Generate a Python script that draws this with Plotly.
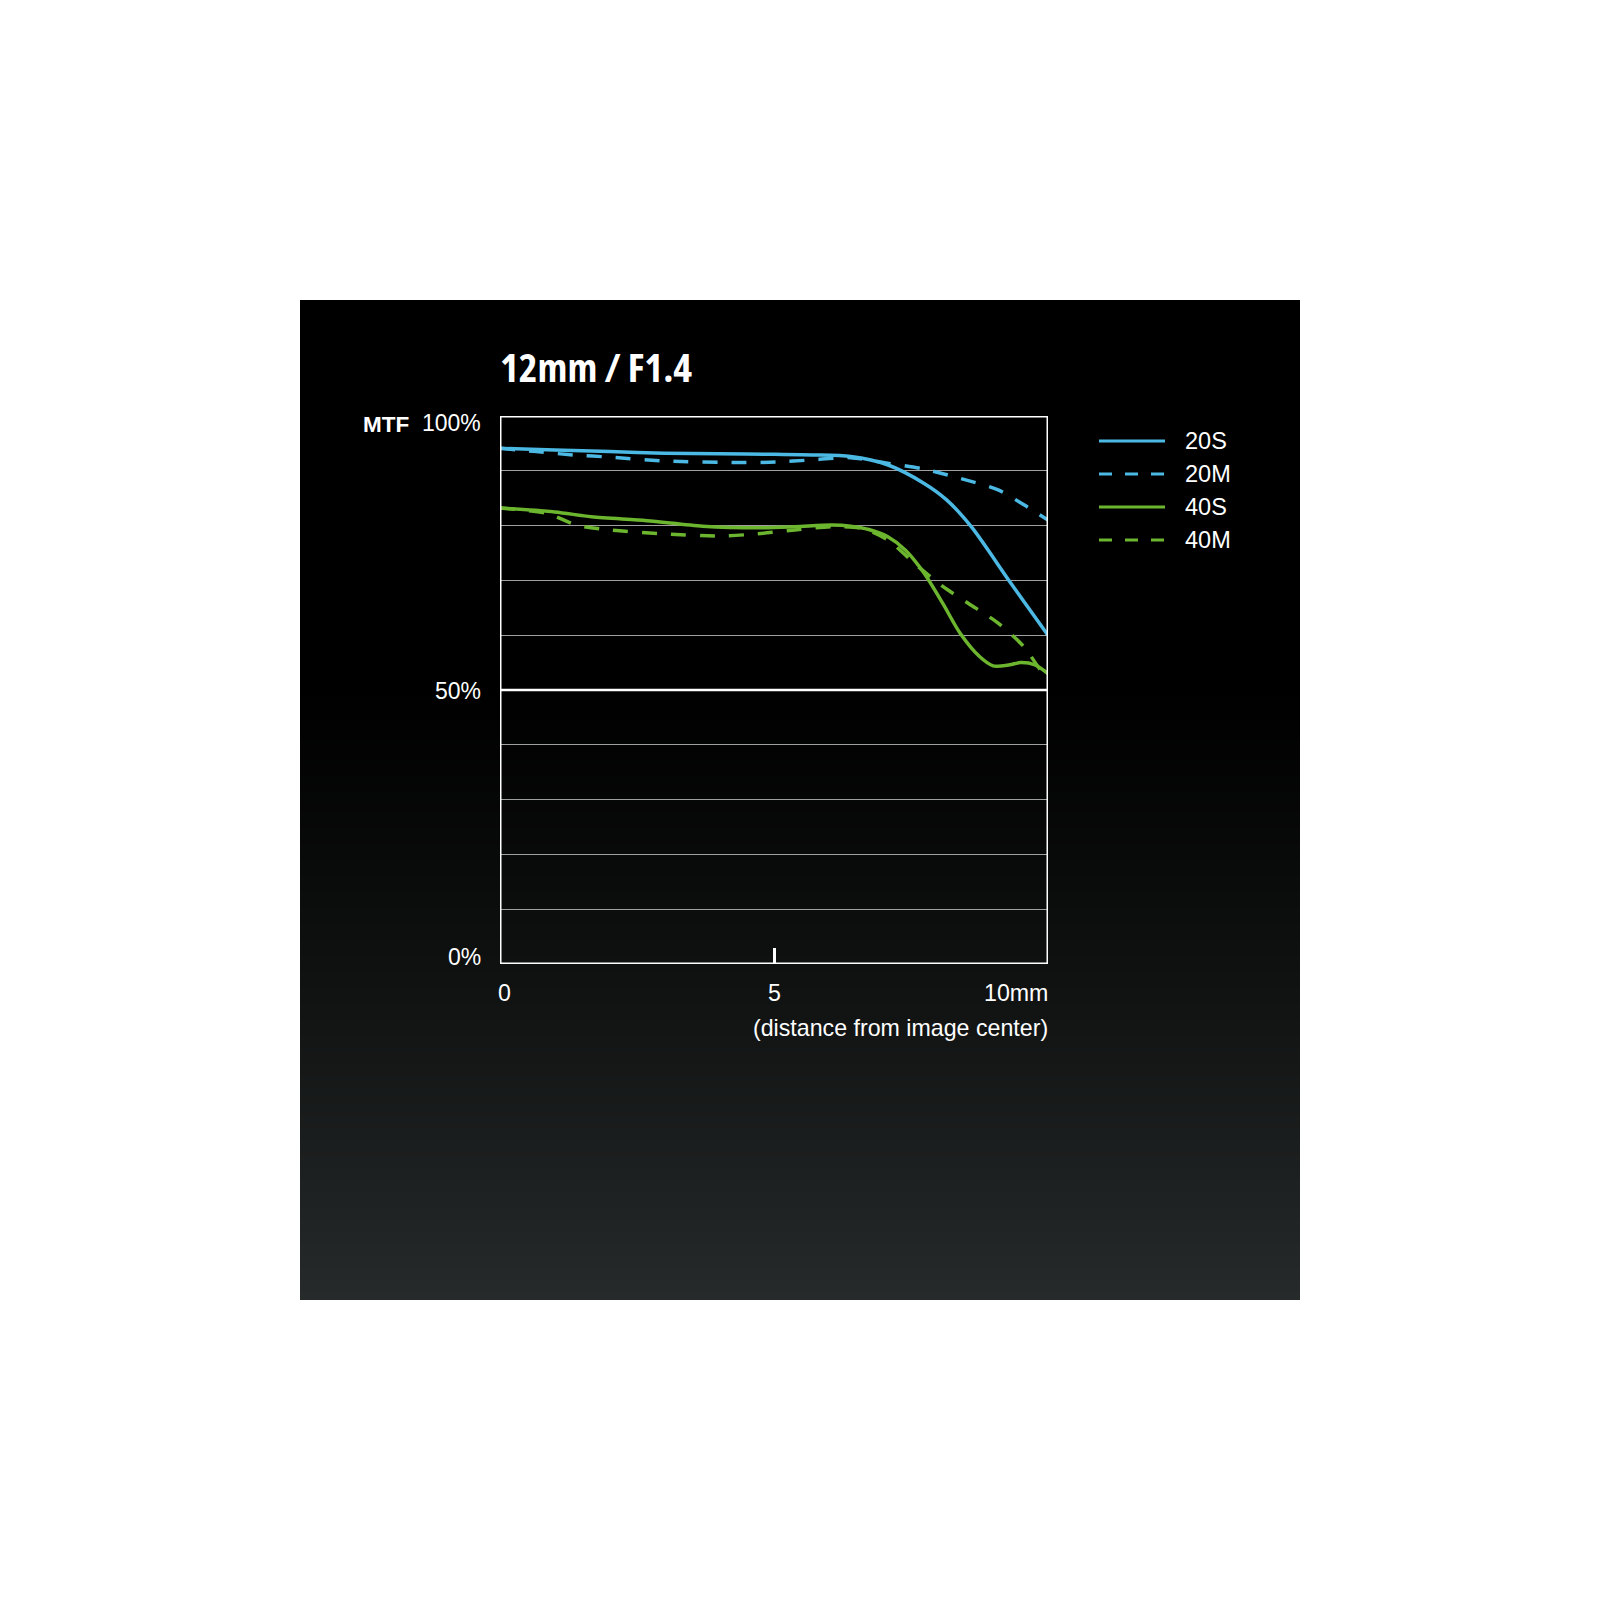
import plotly.graph_objects as go

# ---- data (MTF %, distance from image centre in mm) ----
x_20S = [0, 1.0, 2.0, 3.0, 4.0, 5.0, 5.7, 6.4, 7.07, 7.74, 8.15, 8.6, 9.3, 10.0]
y_20S = [94.1, 93.8, 93.5, 93.2, 93.1, 93.0, 92.9, 92.6, 91.1, 87.7, 84.7, 79.8, 69.8, 60.0]

x_20M = [0, 0.66, 1.33, 2.0, 3.0, 4.37, 5.04, 5.7, 6.1, 6.4, 7.07, 7.74, 8.4, 9.09, 9.56, 10.0]
y_20M = [94.1, 93.5, 92.9, 92.5, 91.8, 91.5, 91.6, 92.0, 92.3, 92.4, 91.4, 90.3, 88.6, 86.5, 83.8, 81.0]

x_40S = [0, 1.0, 1.67, 2.68, 3.7, 4.7, 5.38, 6.05, 6.4, 6.73, 7.07, 7.4, 7.74, 8.08, 8.4,
         8.75, 9.0, 9.3, 9.5, 9.76, 10.0]
y_40S = [83.2, 82.5, 81.6, 80.9, 79.9, 79.6, 79.8, 80.1, 79.9, 79.3, 78.0, 75.5, 71.3, 65.8, 60.3,
         56.1, 54.4, 54.6, 55.0, 54.6, 53.0]

x_40M = [0, 0.86, 1.4, 2.0, 3.0, 4.03, 4.7, 5.38, 6.05, 6.6, 7.07, 7.6, 8.08, 8.55, 9.09, 9.56, 9.9, 10.0]
y_40M = [83.2, 82.2, 80.1, 79.2, 78.5, 78.1, 78.5, 79.2, 79.8, 79.5, 77.4, 72.8, 68.9, 65.8, 62.2, 57.9, 53.3, 53.0]

series_names = ["20S", "20M", "40S", "40M"]
x_tick_labels = ["0", "5", "10mm"]
x_tick_vals = [0, 5, 10]
y_tick_labels = ["0%", "50%", "100%"]
y_tick_vals = [0, 50, 100]

BLUE = "#4bb9e3"
GREEN = "#6cb52e"
FONT = "Liberation Sans, Arial, sans-serif"
W = H = 1600


def px(x):
    return x / W


def py(y):
    return 1 - y / H


fig = go.Figure()
series = [
    (x_20S, y_20S, BLUE, "solid"),
    (x_20M, y_20M, BLUE, "15px,14px"),
    (x_40S, y_40S, GREEN, "solid"),
    (x_40M, y_40M, GREEN, "15px,14px"),
]
for name, (xs, ys, col, dash) in zip(series_names, series):
    fig.add_trace(go.Scatter(
        x=xs, y=ys, name=name, mode="lines", showlegend=False,
        line=dict(color=col, width=3.5, dash=dash, shape="spline", smoothing=0.8),
        hoverinfo="skip",
    ))

shapes = []
# background gradient panel (black at top -> dark grey at bottom); nested rects avoid seams
top, bottom, step = 300, 1300, 4
for yy in range(top, bottom, step):
    t = max(0.0, min(1.0, (yy + step / 2 - 680) / 620))
    f = t ** 1.2
    r, g, b = int(round(38 * f)), int(round(42 * f)), int(round(42 * f))
    shapes.append(dict(type="rect", xref="paper", yref="paper", layer="below",
                       x0=px(300), x1=px(1300), y0=py(bottom), y1=py(yy),
                       line=dict(width=0), fillcolor=f"rgb({r},{g},{b})"))
# 50% line
shapes.append(dict(type="line", xref="x", yref="y", x0=0, x1=10, y0=50, y1=50,
                   line=dict(color="white", width=2.5), layer="between"))
# frame
shapes.append(dict(type="rect", xref="x", yref="y", x0=0, x1=10, y0=0, y1=100,
                   line=dict(color="white", width=3), layer="above"))

annotations = [
    dict(text="<span style='font-stretch:condensed'>12mm / F1.4</span>",
         xref="paper", yref="paper", x=px(498), y=py(366),
         xanchor="left", yanchor="middle", showarrow=False,
         font=dict(family="Open Sans, sans-serif", size=40, color="white", weight="bold")),
    dict(text="<b>MTF</b>", xref="paper", yref="paper", x=px(361), y=py(424),
         xanchor="left", yanchor="middle", showarrow=False,
         font=dict(family=FONT, size=22.5, color="white")),
    dict(text="(distance from image center)", xref="x", yref="paper", x=10, y=py(1028),
         xanchor="right", yanchor="middle", showarrow=False, xshift=2,
         font=dict(family=FONT, size=23.2, color="white")),
]
for v, lab in zip(x_tick_vals, x_tick_labels):
    anc = "center" if v < 10 else "right"
    annotations.append(dict(text=lab, xref="x", yref="y", x=v, y=0, yshift=-29,
                            xshift=4 if v == 0 else (2 if v == 10 else 0),
                            xanchor=anc, yanchor="middle", showarrow=False,
                            font=dict(family=FONT, size=23.2, color="white")))
for v, lab in zip(y_tick_vals, y_tick_labels):
    shift = -7 if v == 100 else (7 if v == 0 else -1)
    annotations.append(dict(text=lab, xref="paper", yref="y", x=px(483), y=v, yshift=shift,
                            xanchor="right", yanchor="middle", showarrow=False,
                            font=dict(family=FONT, size=23, color="white")))

# legend (drawn manually to match the sample length / text gap)
legend_styles = [(BLUE, "solid"), (BLUE, "13px,13px"), (GREEN, "solid"), (GREEN, "13px,13px")]
legend_rows = [441, 474, 507, 540]
for name, (col, dash), ry in zip(series_names, legend_styles, legend_rows):
    shapes.append(dict(type="line", xref="paper", yref="paper", x0=px(1099), x1=px(1165),
                       y0=py(ry), y1=py(ry), line=dict(color=col, width=3, dash=dash),
                       layer="above"))
    annotations.append(dict(text=name, xref="paper", yref="paper", x=px(1183), y=py(ry),
                            xanchor="left", yanchor="middle", showarrow=False,
                            font=dict(family=FONT, size=23.5, color="white")))

fig.update_layout(
    width=W, height=H,
    margin=dict(l=0, r=0, t=0, b=0),
    paper_bgcolor="white",
    plot_bgcolor="rgba(0,0,0,0)",
    showlegend=False,
    shapes=shapes,
    annotations=annotations,
    xaxis=dict(domain=[px(500), px(1048)], range=[0, 10], showgrid=False, zeroline=False,
               showline=False, tickvals=[5], ticks="inside", ticklen=16, tickwidth=2.5,
               tickcolor="white", showticklabels=False, fixedrange=True),
    yaxis=dict(domain=[py(964), py(416)], range=[0, 100], showgrid=True, dtick=10,
               gridcolor="#a0a0a0", gridwidth=1, zeroline=False, showline=False,
               ticks="", showticklabels=False, fixedrange=True),
)

fig.write_html("out.html", config={"displayModeBar": False},
               post_script="document.body.style.margin='0';document.body.style.overflow='hidden';")
